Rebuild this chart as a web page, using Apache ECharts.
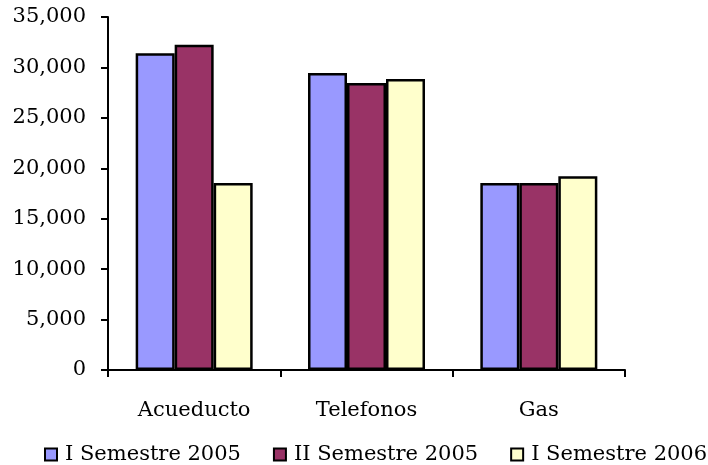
<!DOCTYPE html>
<html>
<head>
<meta charset="utf-8">
<script src="https://cdn.jsdelivr.net/npm/echarts@6/dist/echarts.min.js"></script>
<style>
  html, body { margin: 0; padding: 0; background: #fff; }
  #chart { width: 708px; height: 465px; }
</style>
</head>
<body>
<div id="chart"></div>
<script>
  var categories = ['Acueducto', 'Telefonos', 'Gas'];
  var seriesNames = ['I Semestre 2005', 'II Semestre 2005', 'I Semestre 2006'];
  var sem1_2005 = [31400, 29450, 18550];
  var sem2_2005 = [32250, 28450, 18550];
  var sem1_2006 = [18550, 28850, 19200];
  var colors = ['#9999ff', '#993366', '#ffffcc'];

  var font = 'DejaVu Serif';
  var fsize = 21;
  var chart = echarts.init(document.getElementById('chart'));

  function bar(name, data, color) {
    return {
      name: name,
      type: 'bar',
      data: data,
      barWidth: 39,
      barGap: '0%',
      itemStyle: { color: color, borderColor: '#000', borderWidth: 2.5 }
    };
  }

  var option = {
    animation: false,
    backgroundColor: '#fff',
    grid: { left: 108, right: 83, top: 17, bottom: 95 },
    legend: {
      left: 39,
      top: 439,
      width: 700,
      itemWidth: 12,
      itemHeight: 12,
      itemGap: 32,
      icon: 'rect',
      itemStyle: { borderColor: '#000', borderWidth: 2 },
      textStyle: { fontFamily: font, fontSize: fsize, color: '#000', padding: [0, 0, 0, 3] },
      data: seriesNames
    },
    xAxis: {
      type: 'category',
      data: categories,
      axisLine: { lineStyle: { color: '#000', width: 2 } },
      axisTick: { show: true, length: 7, lineStyle: { color: '#000', width: 2 } },
      axisLabel: { margin: 30, fontFamily: font, fontSize: fsize, color: '#000' }
    },
    yAxis: {
      type: 'value',
      min: 0,
      max: 35000,
      interval: 5000,
      axisLine: { show: true, lineStyle: { color: '#000', width: 2 } },
      axisTick: { show: true, length: 7, lineStyle: { color: '#000', width: 2 } },
      splitLine: { show: false },
      axisLabel: {
        margin: 22,
        fontFamily: font,
        fontSize: fsize,
        color: '#000',
        formatter: function (v) { return v.toLocaleString('en-US'); }
      }
    },
    series: [
      bar(seriesNames[0], sem1_2005, colors[0]),
      bar(seriesNames[1], sem2_2005, colors[1]),
      bar(seriesNames[2], sem1_2006, colors[2])
    ]
  };
  chart.setOption(option);
</script>
</body>
</html>
